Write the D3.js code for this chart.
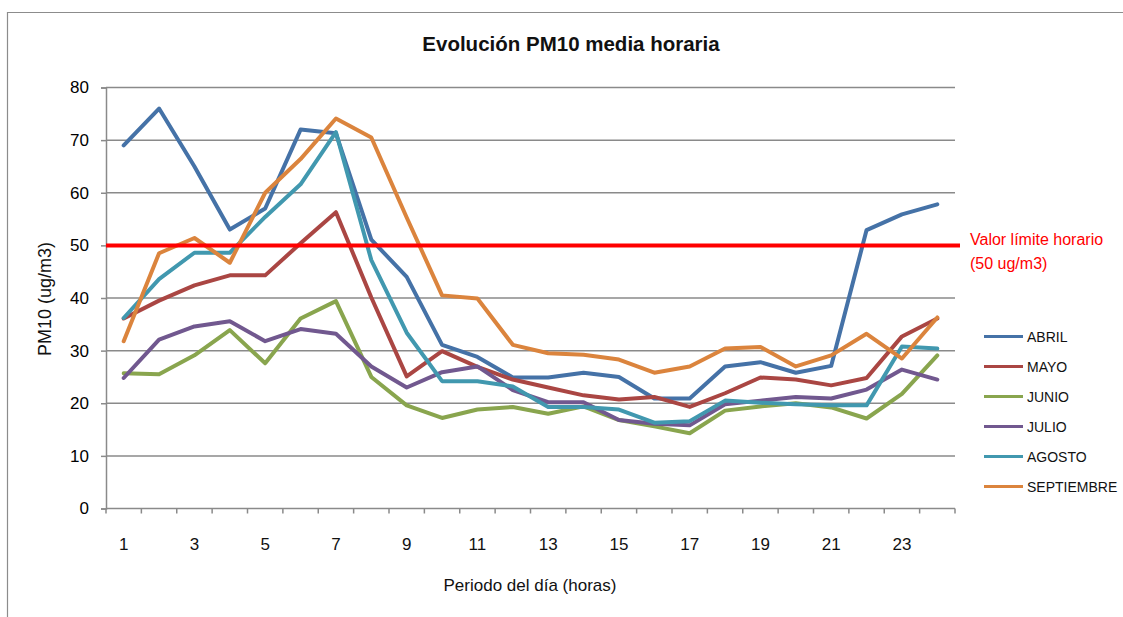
<!DOCTYPE html>
<html>
<head>
<meta charset="utf-8">
<script src="https://cdn.jsdelivr.net/npm/d3@7"></script>
<style>
  html, body { margin: 0; padding: 0; background: #fff; }
  svg { display: block; }
  text { font-family: "Liberation Sans", Arial, sans-serif; fill: #000; }
</style>
</head>
<body>
<svg id="chart" width="1123" height="617"></svg>
<script>
const hours = [1,2,3,4,5,6,7,8,9,10,11,12,13,14,15,16,17,18,19,20,21,22,23,24];
const xTickLabels = [1,3,5,7,9,11,13,15,17,19,21,23];
const yTicks = [0,10,20,30,40,50,60,70,80];
const seriesNames = ["ABRIL","MAYO","JUNIO","JULIO","AGOSTO","SEPTIEMBRE"];
const abril      = [69, 76, 65, 53, 57, 72, 71.3, 51.1, 44, 31.1, 28.8, 24.9, 24.9, 25.8, 25, 20.9, 20.9, 27, 27.8, 25.8, 27.1, 52.9, 55.9, 57.8];
const mayo       = [36.1, 39.5, 42.4, 44.3, 44.3, 50.4, 56.3, 40.1, 25.1, 29.9, 26.9, 24.5, 23, 21.5, 20.7, 21.2, 19.3, 21.9, 24.9, 24.5, 23.4, 24.8, 32.7, 36.1];
const junio      = [25.7, 25.5, 29.1, 33.9, 27.6, 36.1, 39.4, 25, 19.6, 17.2, 18.8, 19.3, 18, 19.4, 16.8, 15.6, 14.3, 18.6, 19.4, 20, 19.2, 17.1, 21.8, 29.1];
const julio      = [24.8, 32.1, 34.6, 35.6, 31.8, 34.1, 33.2, 27, 23, 25.9, 27, 22.5, 20.2, 20.2, 16.8, 16.1, 15.8, 19.8, 20.5, 21.2, 20.9, 22.6, 26.4, 24.5];
const agosto     = [36.2, 43.6, 48.6, 48.6, 55.4, 61.6, 71.5, 47.2, 33.4, 24.2, 24.2, 23.2, 19.3, 19.3, 18.8, 16.3, 16.6, 20.5, 20.1, 19.8, 19.6, 19.6, 30.8, 30.4];
const septiembre = [31.8, 48.5, 51.4, 46.7, 60, 66.4, 74.1, 70.5, 55.3, 40.5, 39.9, 31.1, 29.5, 29.2, 28.3, 25.8, 27, 30.4, 30.7, 27, 29.1, 33.2, 28.5, 36.3];
const limitValue = 50;
const limitLabel = ["Valor límite horario", "(50 ug/m3)"];
const colors = ["#4572A7","#AA4643","#89A54E","#71588F","#4198AF","#DB843D"];

const seriesValues = [abril, mayo, junio, julio, agosto, septiembre];
const series = seriesNames.map((name, i) => ({name, color: colors[i], values: seriesValues[i]}));

const svg = d3.select("#chart");
const plotLeft = 106, plotRight = 955, plotTop = 87.5, plotBottom = 508.5;

// outer chart border
svg.append("path").attr("d", `M7.5,617 L7.5,12.5 L1123,12.5`).attr("fill","none").attr("stroke","#8c8c8c").attr("stroke-width",1.2);

const x = d3.scaleBand().domain(hours).range([plotLeft, plotRight]);
const y = d3.scaleLinear().domain([0, 80]).range([plotBottom, plotTop]);
const cx = d => x(d) + x.bandwidth() / 2;

// gridlines
svg.append("g").selectAll("line").data(yTicks.filter(t => t > 0)).join("line")
  .attr("x1", plotLeft).attr("x2", plotRight).attr("y1", d => y(d)).attr("y2", d => y(d))
  .attr("stroke", "#8a8a8a").attr("stroke-width", 1.5);

// y axis
const yAxis = svg.append("g").attr("transform", `translate(${plotLeft},0)`)
  .call(d3.axisLeft(y).tickValues(yTicks).tickSize(5).tickPadding(12));
yAxis.select(".domain").attr("stroke", "#8a8a8a").attr("stroke-width", 1.5);
yAxis.selectAll(".tick line").attr("stroke", "#8a8a8a").attr("stroke-width", 1.5);
yAxis.selectAll("text").style("font-size", "17px").style("font-family", '"Liberation Sans", Arial, sans-serif').attr("fill", "#111");

// x axis: tick marks at band boundaries
const boundaries = hours.map(h => x(h)).concat([plotRight]);
svg.append("g").selectAll("line").data(boundaries).join("line")
  .attr("x1", d => d).attr("x2", d => d).attr("y1", plotBottom).attr("y2", plotBottom + 5)
  .attr("stroke", "#8a8a8a").attr("stroke-width", 1.5);
svg.append("line").attr("x1", plotLeft).attr("x2", plotRight).attr("y1", plotBottom).attr("y2", plotBottom)
  .attr("stroke", "#8a8a8a").attr("stroke-width", 1.5);
svg.append("g").selectAll("text").data(xTickLabels).join("text")
  .attr("x", d => cx(d)).attr("y", 550).attr("text-anchor", "middle")
  .style("font-size", "17px").style("fill", "#111").text(d => d);

// series lines
const line = d3.line().x((d, i) => cx(hours[i])).y(d => y(d));
svg.append("g").selectAll("path").data(series).join("path")
  .attr("d", d => line(d.values)).attr("fill", "none")
  .attr("stroke", d => d.color).attr("stroke-width", 4)
  .attr("stroke-linejoin", "round").attr("stroke-linecap", "round");

// limit line
svg.append("line").attr("x1", plotLeft).attr("x2", plotRight + 5).attr("y1", y(limitValue)).attr("y2", y(limitValue))
  .attr("stroke", "#FF0000").attr("stroke-width", 4);
svg.append("g").selectAll("text").data(limitLabel).join("text")
  .attr("x", 970).attr("y", (d, i) => 245 + i * 24)
  .style("font-size", "16px").style("fill", "#FF0000").text(d => d);

// title
svg.append("text").attr("x", 571).attr("y", 51).attr("text-anchor", "middle")
  .style("font-size", "20.5px").style("font-weight", "bold").style("fill", "#111").text("Evolución PM10 media horaria");

// axis titles
svg.append("text").attr("x", 530).attr("y", 591).attr("text-anchor", "middle")
  .style("font-size", "17px").style("fill", "#111").text("Periodo del día (horas)");
svg.append("text").attr("transform", "translate(51,299) rotate(-90)").attr("text-anchor", "middle")
  .style("font-size", "18px").style("fill", "#111").text("PM10 (ug/m3)");

// legend
const lg = svg.append("g").selectAll("g").data(series).join("g")
  .attr("transform", (d, i) => `translate(984,${336.5 + i * 30})`);
lg.append("line").attr("x1", 0).attr("x2", 39).attr("y1", 0).attr("y2", 0)
  .attr("stroke", d => d.color).attr("stroke-width", 3);
lg.append("text").attr("x", 43).attr("y", 5.5).style("font-size", "14px").style("fill", "#111").text(d => d.name);
</script>
</body>
</html>
